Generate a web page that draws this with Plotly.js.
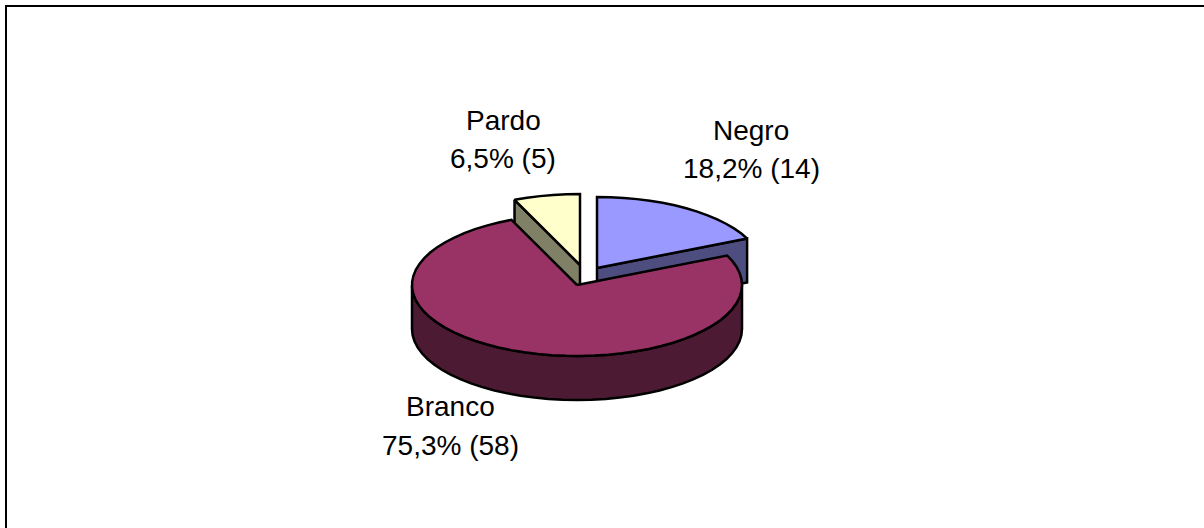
<!DOCTYPE html>
<html>
<head>
<meta charset="utf-8">
<script src="https://cdn.plot.ly/plotly-3.0.1.min.js"></script>
<style>html,body{margin:0;padding:0;background:#fff;overflow:hidden}#c{width:1204px;height:528px}</style>
</head>
<body>
<div id="c"></div>
<script>
// data
var categories = ['Negro', 'Branco', 'Pardo'];
var counts = [14, 58, 5];
var topColors = ['#9999FF', '#993366', '#FFFFCC'];
var sideColors = ['#4D4D80', '#4D1A33', '#808066'];

// 3D projection of the pie, in plot pixels
var apexX = [597, 577, 580];
var apexY = [268, 285, 265];
var radiusX = 165, radiusY = 71, depth = 44, stepDeg = 5;

// label placement: centre of each text line
var labelX = [751, 450, 503];
var labelY1 = [130, 406, 120];
var labelY2 = [168, 445, 158];

var total = counts.reduce(function (a, b) { return a + b; }, 0);
function pct(v) { return (100 * v / total).toFixed(1).replace('.', ','); }
function pt(i, deg, dz) {
  var r = deg * Math.PI / 180;
  return [apexX[i] + radiusX * Math.sin(r), apexY[i] - radiusY * Math.cos(r) + (dz || 0)];
}
function arc(i, a, b, dz) {
  var out = [], n = Math.max(1, Math.ceil(Math.abs(b - a) / stepDeg));
  for (var k = 0; k <= n; k++) out.push(pt(i, a + (b - a) * k / n, dz));
  return out;
}
function poly(points, fill) {
  var xs = points.map(function (p) { return p[0]; });
  var ys = points.map(function (p) { return p[1]; });
  xs.push(xs[0]); ys.push(ys[0]);
  return { type: 'scatter', mode: 'lines', x: xs, y: ys, fill: 'toself', fillcolor: fill,
    line: { color: '#000', width: 2.5, simplify: false }, hoverinfo: 'skip', showlegend: false };
}

var start = [], acc = 0;
counts.forEach(function (c) { start.push(acc); acc += 360 * c / total; });
function end(i) { return start[i] + 360 * counts[i] / total; }
function apex(i, dz) { return [apexX[i], apexY[i] + (dz || 0)]; }

var traces = [];
// wedges drawn back to front: Negro, Pardo, then the large Branco in front
[0, 2, 1].forEach(function (i) {
  var a = start[i], b = end(i);
  if (i === 1) {
    var rim = arc(i, 90, 270, 0).concat(arc(i, 270, 90, depth));
    traces.push(poly(rim, sideColors[i]));
  } else {
    var e = i === 0 ? b : a;
    traces.push(poly([apex(i), pt(i, e), pt(i, e, depth), apex(i, depth)], sideColors[i]));
  }
  traces.push(poly([apex(i)].concat(arc(i, a, b, 0)), topColors[i]));
});

var annotations = [];
categories.forEach(function (name, i) {
  var base = { xref: 'x', yref: 'y', x: labelX[i], showarrow: false, xanchor: 'center', yanchor: 'middle',
    font: { family: '"Liberation Sans", Arial, sans-serif', size: 28, color: '#000' } };
  annotations.push(Object.assign({}, base, { y: labelY1[i], text: name }));
  annotations.push(Object.assign({}, base, { y: labelY2[i], text: pct(counts[i]) + '% (' + counts[i] + ')' }));
});

Plotly.newPlot('c', traces, {
  width: 1204, height: 528,
  margin: { l: 0, r: 0, t: 0, b: 0 },
  paper_bgcolor: '#fff', plot_bgcolor: '#fff',
  xaxis: { range: [0, 1204], visible: false, fixedrange: true },
  yaxis: { range: [528, 0], visible: false, fixedrange: true },
  annotations: annotations,
  shapes: [
    { type: 'line', xref: 'x', yref: 'y', x0: 5, x1: 1204, y0: 6, y1: 6, line: { color: '#000', width: 2 } },
    { type: 'line', xref: 'x', yref: 'y', x0: 6, x1: 6, y0: 5, y1: 528, line: { color: '#000', width: 2 } }
  ]
}, { displayModeBar: false, staticPlot: true });
</script>
</body>
</html>
